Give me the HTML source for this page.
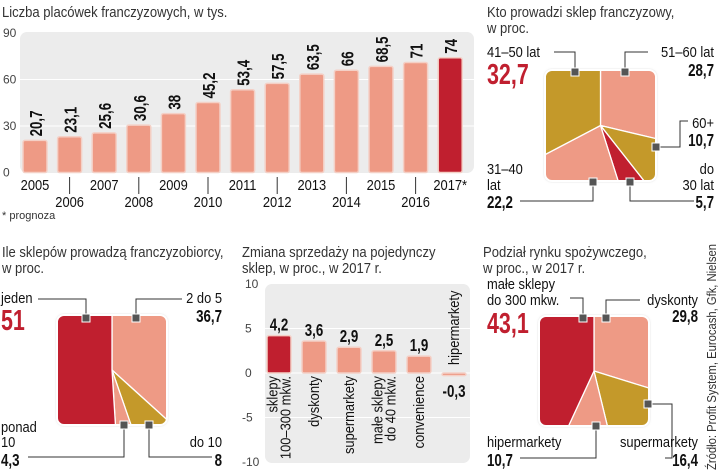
<!DOCTYPE html>
<html><head><meta charset="utf-8"><style>
html,body{margin:0;padding:0;background:#fff;}
svg{display:block;}
text{font-family:"Liberation Sans",sans-serif;}
.t{font-size:14.5px;fill:#333;}
.lb{font-size:15px;fill:#111;}
.v{font-size:18px;font-weight:bold;fill:#111;}
.vr{font-size:29px;font-weight:bold;fill:#c01f2f;}
.tk{font-size:12px;fill:#444;}
</style></head><body>
<svg id="c" width="720" height="472" viewBox="0 0 720 472" xmlns="http://www.w3.org/2000/svg">
<defs>
<filter id="sh" x="-5%" y="-5%" width="110%" height="110%"><feDropShadow dx="0" dy="0" stdDeviation="1.2" flood-color="#999" flood-opacity="0.8"/></filter>
</defs>
<text class="t" x="2" y="17">Liczba placówek franczyzowych, w tys.</text>
<rect x="20" y="32" width="454" height="141" rx="7" fill="#ececec"/>
<g id="g1"></g>
<text x="2" y="219" style="font-size:11px;fill:#333">* prognoza</text>

<text class="t" x="487" y="17">Kto prowadzi sklep franczyzowy,</text>
<text class="t" x="487" y="33">w proc.</text>
<g id="p1"></g>

<text class="t" x="2" y="257">Ile sklepów prowadzą franczyzobiorcy,</text>
<text class="t" x="2" y="273">w proc.</text>
<g id="p2"></g>

<text class="t" x="242" y="257">Zmiana sprzedaży na pojedynczy</text>
<text class="t" x="242" y="273">sklep, w proc., w 2017 r.</text>
<rect x="265" y="284" width="205" height="179" rx="7" fill="#ececec"/>
<g id="g4"></g>

<text class="t" x="483" y="257">Podział rynku spożywczego,</text>
<text class="t" x="483" y="273">w proc., w 2017 r.</text>
<g id="p3"></g>
<text class="src" transform="translate(716,470) rotate(-90)" style="font-size:12.5px;fill:#333">Źródło: Profit System, Eurocash, Gfk, Nielsen</text>
</svg>
<script>
const NS="http://www.w3.org/2000/svg";
function mk(tag,attrs,parent,txt){const e=document.createElementNS(NS,tag);for(const k in attrs)e.setAttribute(k,attrs[k]);if(txt!==undefined)e.textContent=txt;parent.appendChild(e);return e;}
const SAL="#ee9a85",GOLD="#c4992a",RED="#c01f2f";

// Chart 1 data
const years=["2005","2006","2007","2008","2009","2010","2011","2012","2013","2014","2015","2016","2017*"];
const counts=[20.7,23.1,25.6,30.6,38,45.2,53.4,57.5,63.5,66,68.5,71,74];
const countLabels=["20,7","23,1","25,6","30,6","38","45,2","53,4","57,5","63,5","66","68,5","71","74"];
const ticks1=[0,30,60,90];

(function(){
const g=document.getElementById('g1');
const y=v=>172.5-v*(139.5/90);
const x=i=>23+i*34.6;
ticks1.forEach(t=>{
  if(t>0&&t<90){const l=mk('line',{x1:20,x2:474,y1:y(t),y2:y(t),stroke:'#fff','stroke-width':1},g);}
  const tx=mk('text',{class:'tk',x:3,y:y(t)+4},g,String(t));
  
  
});
counts.forEach((v,i)=>{
  const last=i===counts.length-1;
  const r=mk('rect',{x:x(i),y:y(v),width:24,height:y(0)-y(v),rx:2,fill:last?RED:SAL,stroke:'#f4d0c6','stroke-width':1.5},g);
  
  
  const cx=x(i)+12;
  const t=mk('text',{class:'v',transform:`translate(${cx+7},${y(v)-4}) rotate(-90)`},g,countLabels[i]);
  
  
  const even=i%2===1;
  const yl=mk('text',{class:'lb',x:cx,y:even?207:190,'text-anchor':'middle'},g,years[i]);
  
  
  if(even){const tl=mk('line',{x1:cx,x2:cx,y1:177,y2:194,stroke:'#333','stroke-width':1},g);}
});
})();

// Chart 4 data
const cats4=["sklepy\n100–300 mkw.","dyskonty","supermarkety","małe sklepy\ndo 40 mkw.","convenience","hipermarkety"];
const vals4=[4.2,3.6,2.9,2.5,1.9,-0.3];
const lab4=["4,2","3,6","2,9","2,5","1,9","-0,3"];
const ticks4=[-10,-5,0,5,10];
(function(){
const g=document.getElementById('g4');
const y=v=>373-v*8.9;
const x=i=>267+i*35;
ticks4.forEach(t=>{
  if(t!==10&&t!==-10){const l=mk('line',{x1:265,x2:470,y1:y(t),y2:y(t),stroke:'#fff','stroke-width':1},g);}
  const tx=mk('text',{class:'tk',x:t<0?242:245,y:y(t)+4},g,String(t));
  
  
});
vals4.forEach((v,i)=>{
  const top=Math.min(y(v),y(0)),h=Math.max(Math.abs(y(v)-y(0)),1.5);
  const r=mk('rect',{x:x(i),y:top,width:24,height:h,rx:2,fill:i===0?RED:SAL,stroke:'#f4d0c6','stroke-width':1.5},g);
  
  
  const cx=x(i)+12;
  const vt=mk('text',{class:'v',x:cx,y:v>=0?y(v)-5:y(0)+24,'text-anchor':'middle'},g,lab4[i]);
  
  
  const lines=cats4[i].split('\n');
  lines.forEach((s,k)=>{
    const off=(k-(lines.length-1)/2)*13+5;
    let t;
    if(v>=0) t=mk('text',{class:'lb',transform:`translate(${cx+off},${y(0)+3}) rotate(-90)`,'text-anchor':'end'},g,s);
    else t=mk('text',{class:'lb',transform:`translate(${cx+off},${y(0)-8}) rotate(-90)`,'text-anchor':'start'},g,s);
    
    
  });
});
})();

// Pies
function pie(id,x0,y0,s,vals,cols,names){
  const g=document.getElementById(id);
  const cid=id+'clip';
  const cp=mk('clipPath',{id:cid},g);
  mk('rect',{x:x0,y:y0,width:s,height:s,rx:7},cp);
  const bg=mk('rect',{x:x0,y:y0,width:s,height:s,rx:7,fill:'#fff',filter:'url(#sh)'},g);
  
  
  const gg=mk('g',{'clip-path':`url(#${cid})`},g);
  const cx=x0+s/2,cy=y0+s/2,R=s;
  const tot=vals.reduce((a,b)=>a+b,0);
  let a=0;
  vals.forEach((v,i)=>{
    const a1=a+v/tot*2*Math.PI;
    const p=(t)=>[cx+R*Math.sin(t),cy-R*Math.cos(t)];
    let d=`M${cx},${cy}`;
    const steps=Math.max(2,Math.ceil((a1-a)/0.2));
    for(let k=0;k<=steps;k++){const q=p(a+(a1-a)*k/steps);d+=` L${q[0]},${q[1]}`;}
    d+='Z';
    const e=mk('path',{d:d,fill:cols[i],stroke:'#fff','stroke-width':1.3},gg);
    
    
    a=a1;
  });
  mk('rect',{x:x0,y:y0,width:s,height:s,rx:7,fill:'none',stroke:'#fff','stroke-width':2},g);
}
function leader(id,pts,name){
  const g=document.getElementById(id);
  const l=mk('polyline',{points:pts.map(p=>p.join(',')).join(' '),fill:'none',stroke:'#333','stroke-width':1},g);
  
  
  const m=mk('rect',{x:pts[0][0]-4,y:pts[0][1]-4,width:8,height:8,fill:'#555',stroke:'#fff','stroke-width':1},g);
  
  
}
function lab(id,x,y,txt,cls,anchor,name){
  const g=document.getElementById(id);
  const t=mk('text',{class:cls,x:x,y:y,'text-anchor':anchor||'start'},g,txt);
  
  
}

// Pie 1
const ageNames=["51-60","60+","do-30","31-40","41-50"];
const ageVals=[28.7,10.7,5.7,22.2,32.7];
pie('p1',545,70,111,ageVals,[SAL,GOLD,RED,SAL,GOLD],ageNames);
leader('p1',[[575,72],[575,52],[554,52]],'41-50');
leader('p1',[[625,72],[625,52],[648,52]],'51-60');
leader('p1',[[656,147],[680,147],[680,121],[688,121]],'60+');
leader('p1',[[593,182],[593,201],[520,201]],'31-40');
leader('p1',[[630,182],[630,201],[694,201]],'do-30');
lab('p1',487,57,'41–50 lat','lb','start','label-41-50');
lab('p1',487,84,'32,7','vr','start','value-41-50');
lab('p1',714,57,'51–60 lat','lb','end','label-51-60');
lab('p1',714,76,'28,7','v','end','value-51-60');
lab('p1',714,128,'60+','lb','end','label-60plus');
lab('p1',714,146,'10,7','v','end','value-60plus');
lab('p1',714,174,'do','lb','end','label-do30');
lab('p1',714,190,'30 lat','lb','end','label-do30-2');
lab('p1',714,208,'5,7','v','end','value-do30');
lab('p1',487,174,'31–40','lb','start','label-31-40');
lab('p1',487,190,'lat','lb','start','label-31-40-2');
lab('p1',487,208,'22,2','v','start','value-31-40');

// Pie 2
const shopNames=["2-do-5","do-10","ponad-10","jeden"];
const shopVals=[36.7,8,4.3,51];
pie('p2',57,315,110,shopVals,[SAL,GOLD,SAL,RED],shopNames);
leader('p2',[[86,318],[86,299],[38,299]],'jeden');
leader('p2',[[136,318],[136,299],[182,299]],'2-do-5');
leader('p2',[[124,425],[124,457],[28,457]],'ponad-10');
leader('p2',[[149,425],[149,457],[212,457]],'do-10');
lab('p2',1,303,'jeden','lb','start','label-jeden');
lab('p2',1,330,'51','vr','start','value-jeden');
lab('p2',222,303,'2 do 5','lb','end','label-2do5');
lab('p2',222,322,'36,7','v','end','value-2do5');
lab('p2',1,432,'ponad','lb','start','label-ponad10');
lab('p2',1,447,'10','lb','start','label-ponad10-2');
lab('p2',1,466,'4,3','v','start','value-ponad10');
lab('p2',222,447,'do 10','lb','end','label-do10');
lab('p2',222,466,'8','v','end','value-do10');

// Pie 3
const mktNames=["dyskonty","supermarkety","hipermarkety","male-sklepy"];
const mktVals=[29.8,16.4,10.7,43.1];
pie('p3',539,316,110,mktVals,[SAL,GOLD,SAL,RED],mktNames);
leader('p3',[[583,318],[583,298],[570,298]],'male-sklepy');
leader('p3',[[606,318],[606,300],[640,300]],'dyskonty');
leader('p3',[[648,404],[672,404],[672,458],[665,458]],'supermarkety');
leader('p3',[[596,426],[596,458],[520,458]],'hipermarkety');
lab('p3',487,289,'małe sklepy','lb','start','label-male-sklepy');
lab('p3',487,305,'do 300 mkw.','lb','start','label-male-sklepy-2');
lab('p3',487,333,'43,1','vr','start','value-male-sklepy');
lab('p3',698,305,'dyskonty','lb','end','label-dyskonty');
lab('p3',698,322,'29,8','v','end','value-dyskonty');
lab('p3',698,447,'supermarkety','lb','end','label-supermarkety');
lab('p3',698,466,'16,4','v','end','value-supermarkety');
lab('p3',487,447,'hipermarkety','lb','start','label-hipermarkety');
lab('p3',487,466,'10,7','v','start','value-hipermarkety');

// Condense text horizontally (narrow typeface look)
function condense(sel,sx){
  document.querySelectorAll(sel).forEach(t=>{
    let tr=t.getAttribute('transform')||'';
    if(t.hasAttribute('x')){
      tr=`translate(${t.getAttribute('x')},${t.getAttribute('y')}) `+tr;
      t.removeAttribute('x');t.removeAttribute('y');
    }
    t.setAttribute('transform',tr+` scale(${sx},1)`);
  });
}
condense('text.v, text.vr',0.74);
condense('text.lb',0.86);
condense('text.t',0.9);
condense('text.src',0.9);
</script>
</body></html>
